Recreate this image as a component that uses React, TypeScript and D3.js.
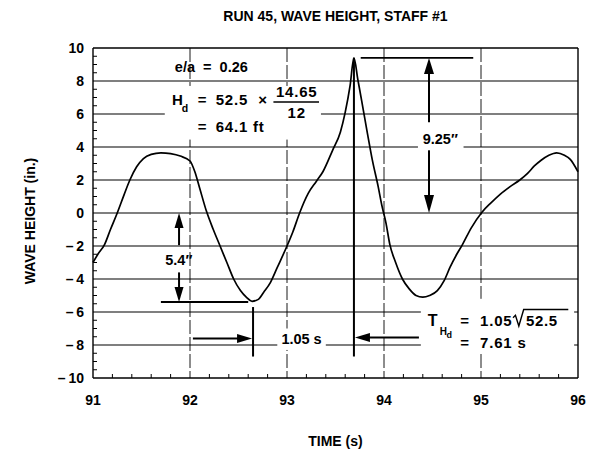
import React from "react";
import * as d3 from "d3";

const TITLE = "RUN 45, WAVE HEIGHT, STAFF #1";
const X_LABEL = "TIME (s)";
const Y_LABEL = "WAVE HEIGHT (in.)";
const X_TICKS = [91, 92, 93, 94, 95, 96];
const Y_TICKS = [10, 8, 6, 4, 2, 0, -2, -4, -6, -8, -10];

const TIME = [
  91.0, 91.05, 91.12, 91.18, 91.25, 91.32, 91.38, 91.45, 91.52, 91.6, 91.7, 91.8, 91.9,
  92.0, 92.05, 92.1, 92.17, 92.24, 92.31, 92.38, 92.45, 92.52, 92.58, 92.64, 92.7, 92.76,
  92.83, 92.9, 93.0, 93.06, 93.13, 93.22, 93.3, 93.37, 93.47, 93.55, 93.6, 93.65, 93.69,
  93.73, 93.77, 93.83, 93.88, 93.94, 93.98, 94.02, 94.06, 94.12, 94.19, 94.26, 94.33,
  94.4, 94.47, 94.55, 94.62, 94.68, 94.75, 94.81, 94.9, 95.01, 95.1, 95.2, 95.3, 95.4,
  95.48, 95.55, 95.62, 95.7, 95.78, 95.86, 95.92, 96.0,
];
const HEIGHT = [
  -3.0, -2.5, -1.9, -1.0, 0.0, 1.1, 2.0, 2.8, 3.3, 3.55, 3.65, 3.6, 3.45,
  3.15, 2.5, 1.5, 0.1, -1.0, -2.0, -3.0, -4.0, -4.7, -5.1, -5.35, -5.25, -4.8,
  -4.2, -3.3, -2.0, -1.15, 0.0, 1.2, 1.9, 2.5, 3.8, 4.9, 6.1, 7.7, 9.4,
  8.1, 6.8, 4.8, 3.2, 1.6, 0.4, -0.6, -1.9, -3.0, -4.0, -4.6, -5.0,
  -5.1, -5.0, -4.7, -4.1, -3.3, -2.5, -1.9, -0.9, 0.05, 0.6, 1.15, 1.6, 2.0,
  2.4, 2.85, 3.2, 3.5, 3.65, 3.5, 3.25, 2.5,
];

const W = 594;
const H = 454;
const FONT = "'Liberation Sans', Arial, Helvetica, sans-serif";

const x = d3.scaleLinear().domain([91, 96]).range([93, 578]);
const y = d3.scaleLinear().domain([-10, 10]).range([378, 48]);

const fmt = (d: number) => (d < 0 ? "\u2013\u2009" + Math.abs(d) : String(d));

function arrowHead(tx: number, ty: number, dir: "up" | "down" | "left" | "right", len = 15, half = 5) {
  if (dir === "up") return `M${tx},${ty}L${tx - half},${ty + len}L${tx + half},${ty + len}Z`;
  if (dir === "down") return `M${tx},${ty}L${tx - half},${ty - len}L${tx + half},${ty - len}Z`;
  if (dir === "right") return `M${tx},${ty}L${tx - len},${ty - half}L${tx - len},${ty + half}Z`;
  return `M${tx},${ty}L${tx + len},${ty - half}L${tx + len},${ty + half}Z`;
}

export default function App() {
  const data = TIME.map((t, i) => [t, HEIGHT[i]] as [number, number]);
  const line = d3
    .line<[number, number]>()
    .x((d) => x(d[0]))
    .y((d) => y(d[1]))
    .curve(d3.curveMonotoneX);

  const xMinor = d3.range(91.2, 96, 0.2).filter((v) => Math.abs(v - Math.round(v)) > 0.01);
  const yMinor = d3.range(-9.5, 10, 0.5).filter((v) => Math.abs(v / 2 - Math.round(v / 2)) > 0.01);

  const [x0, x1] = x.range();
  const [y0, y1] = y.range(); // y0 bottom, y1 top

  const peakT = 93.69;
  const peakH = 9.4;
  const troughT = 92.65;
  const txt = { fontFamily: FONT, fontWeight: 700 as const, fill: "#000" };

  return (
    <svg width={W} height={H} style={{ position: "absolute", left: 0, top: 0, background: "#fff" }}>
      <rect x={0} y={0} width={W} height={H} fill="#fff" />
      {/* title */}
      <text x={(x0 + x1) / 2} y={21} textAnchor="middle" fontSize={14} {...txt}>
        {TITLE}
      </text>

      {/* horizontal gridlines */}
      {Y_TICKS.map((v) => (
        <line key={"h" + v} x1={x0} x2={x1} y1={y(v)} y2={y(v)} stroke="#000" strokeWidth={v === 10 || v === -10 ? 1.6 : 1.1} />
      ))}
      {/* vertical gridlines */}
      {X_TICKS.slice(1, -1).map((v) => (
        <line key={"v" + v} x1={x(v)} x2={x(v)} y1={y1} y2={y0} stroke="#000" strokeWidth={0.9} strokeDasharray="14,3" />
      ))}
      {/* frame */}
      <line x1={x0} x2={x0} y1={y1} y2={y0} stroke="#000" strokeWidth={1.4} />
      <line x1={x1} x2={x1} y1={y1} y2={y0} stroke="#000" strokeWidth={1.4} />
      {/* minor ticks */}
      {xMinor.map((v) => (
        <line key={"xm" + v} x1={x(v)} x2={x(v)} y1={y0} y2={y0 - 4} stroke="#000" strokeWidth={1} />
      ))}
      {yMinor.map((v) => (
        <line key={"ym" + v} x1={x0} x2={x0 + 4} y1={y(v)} y2={y(v)} stroke="#000" strokeWidth={1} />
      ))}

      {/* tick labels */}
      {Y_TICKS.map((v) => (
        <text key={"yl" + v} x={x0 - 9} y={y(v) + 5} textAnchor="end" fontSize={14} {...txt}>
          {fmt(v)}
        </text>
      ))}
      {X_TICKS.map((v) => (
        <text key={"xl" + v} x={x(v)} y={405} textAnchor="middle" fontSize={14} {...txt}>
          {fmt(v)}
        </text>
      ))}
      <text x={(x0 + x1) / 2} y={446} textAnchor="middle" fontSize={14} {...txt}>
        {X_LABEL}
      </text>
      <text
        transform={`translate(35,${(y0 + y1) / 2 + 8}) rotate(-90)`}
        textAnchor="middle"
        fontSize={14}
        {...txt}
      >
        {Y_LABEL}
      </text>

      {/* white backgrounds for annotation texts */}
      <rect x={x(91.74)} y={y(7.7)} width={x(93.35) - x(91.74)} height={y(4.45) - y(7.7)} fill="#fff" />
      <rect x={x(94.35)} y={y(5.2)} width={x(94.82) - x(94.35)} height={y(3.85) - y(5.2)} fill="#fff" />
      <rect x={x(94.38)} y={y(-5.2)} width={x(95.96) - x(94.38)} height={y(-8.4) - y(-5.2)} fill="#fff" />
      <rect x={x(92.9)} y={y(-7.0)} width={x(93.4) - x(92.9)} height={y(-8.3) - y(-7.0)} fill="#fff" />

      {/* e/a */}
      <text x={x(92.22)} y={y(8.55)} textAnchor="middle" fontSize={14.5} {...txt} style={{ whiteSpace: "pre" }}>
        {"e/a  =  0.26"}
      </text>

      {/* Hd formula */}
      <text x={x(91.814)} y={y(6.55)} fontSize={15} {...txt}>H</text>
      <text x={x(91.915)} y={y(6.1)} fontSize={10.5} {...txt}>d</text>
      <text x={x(92.124)} y={y(6.55)} textAnchor="middle" fontSize={15} {...txt}>=</text>
      <text x={x(92.265)} y={y(6.55)} fontSize={15} letterSpacing={0.8} {...txt}>52.5</text>
      <text x={x(92.75)} y={y(6.55)} textAnchor="middle" fontSize={15} {...txt}>×</text>
      <text x={x(93.1)} y={y(7.03)} textAnchor="middle" fontSize={15} letterSpacing={0.8} {...txt}>14.65</text>
      <line x1={x(92.86)} x2={x(93.33)} y1={y(6.73)} y2={y(6.73)} stroke="#000" strokeWidth={1.6} />
      <text x={x(93.1)} y={y(5.75)} textAnchor="middle" fontSize={15} letterSpacing={0.8} {...txt}>12</text>
      <text x={x(92.124)} y={y(4.9)} textAnchor="middle" fontSize={15} {...txt}>=</text>
      <text x={x(92.265)} y={y(4.9)} fontSize={15} letterSpacing={0.8} {...txt}>64.1 ft</text>

      {/* wave record */}
      <path d={line(data) || ""} fill="none" stroke="#000" strokeWidth={1.7} strokeLinejoin="round" />

      {/* 5.4" annotation */}
      <line x1={x(91.7)} x2={x(92.6)} y1={y(-5.4)} y2={y(-5.4)} stroke="#000" strokeWidth={2} />
      <line x1={x(91.887)} x2={x(91.887)} y1={y(0) + 12} y2={y(-1.95)} stroke="#000" strokeWidth={2} />
      <path d={arrowHead(x(91.887), y(0), "up", 15, 4.5)} fill="#000" />
      <line x1={x(91.887)} x2={x(91.887)} y1={y(-3.6)} y2={y(-5.4) - 12} stroke="#000" strokeWidth={2} />
      <path d={arrowHead(x(91.887), y(-5.4), "down", 15, 4.5)} fill="#000" />
      <text x={x(91.885)} y={y(-3.15)} textAnchor="middle" fontSize={14.5} {...txt}>5.4″</text>

      {/* 9.25" annotation */}
      <line x1={x(93.76)} x2={x(94.92)} y1={y(peakH)} y2={y(peakH)} stroke="#000" strokeWidth={1.8} />
      <line x1={x(94.464)} x2={x(94.464)} y1={y(peakH) + 12} y2={y(5.5)} stroke="#000" strokeWidth={2} />
      <path d={arrowHead(x(94.464), y(peakH), "up", 16, 5)} fill="#000" />
      <line x1={x(94.464)} x2={x(94.464)} y1={y(3.8)} y2={y(0) - 12} stroke="#000" strokeWidth={2} />
      <path d={arrowHead(x(94.464), y(0), "down", 18, 5)} fill="#000" />
      <text x={x(94.58)} y={y(4.2)} textAnchor="middle" fontSize={14.5} {...txt}>9.25″</text>

      {/* 1.05 s annotation */}
      <line x1={x(troughT)} x2={x(troughT)} y1={y(-5.7)} y2={y(-8.7)} stroke="#000" strokeWidth={2} />
      <line x1={x(peakT)} x2={x(peakT)} y1={y(peakH)} y2={y(-8.7)} stroke="#000" strokeWidth={2} />
      <line x1={x(92.03)} x2={x(troughT) - 12} y1={y(-7.6)} y2={y(-7.6)} stroke="#000" strokeWidth={2} />
      <path d={arrowHead(x(troughT) - 1, y(-7.6), "right", 15, 4.5)} fill="#000" />
      <line x1={x(peakT) + 12} x2={x(94.36)} y1={y(-7.55)} y2={y(-7.55)} stroke="#000" strokeWidth={2} />
      <path d={arrowHead(x(peakT) + 1, y(-7.55), "left", 15, 4.5)} fill="#000" />
      <text x={x(93.15)} y={y(-7.95)} textAnchor="middle" fontSize={14.5} {...txt}>1.05 s</text>

      {/* T_Hd formula */}
      <text x={x(94.45)} y={y(-6.85)} fontSize={16} {...txt}>T</text>
      <text x={x(94.575)} y={y(-7.4)} fontSize={10} {...txt}>H</text>
      <text x={x(94.645)} y={y(-7.55)} fontSize={9} {...txt}>d</text>
      <text x={x(94.83)} y={y(-6.85)} textAnchor="middle" fontSize={15} {...txt}>=</text>
      <text x={x(94.99)} y={y(-6.85)} fontSize={15} letterSpacing={0.8} {...txt}>1.05</text>
      <path
        d={`M${x(95.33)},${y(-6.35)} L${x(95.355)},${y(-6.2)} L${x(95.39)},${y(-6.85)} L${x(95.44)},${y(-5.85)} L${x(95.9)},${y(-5.85)}`}
        fill="none"
        stroke="#000"
        strokeWidth={1.4}
      />
      <text x={x(95.465)} y={y(-6.85)} fontSize={15} letterSpacing={0.6} {...txt}>52.5</text>
      <text x={x(94.83)} y={y(-8.2)} textAnchor="middle" fontSize={15} {...txt}>=</text>
      <text x={x(94.99)} y={y(-8.2)} fontSize={15} letterSpacing={0.8} {...txt}>7.61 s</text>
    </svg>
  );
}
